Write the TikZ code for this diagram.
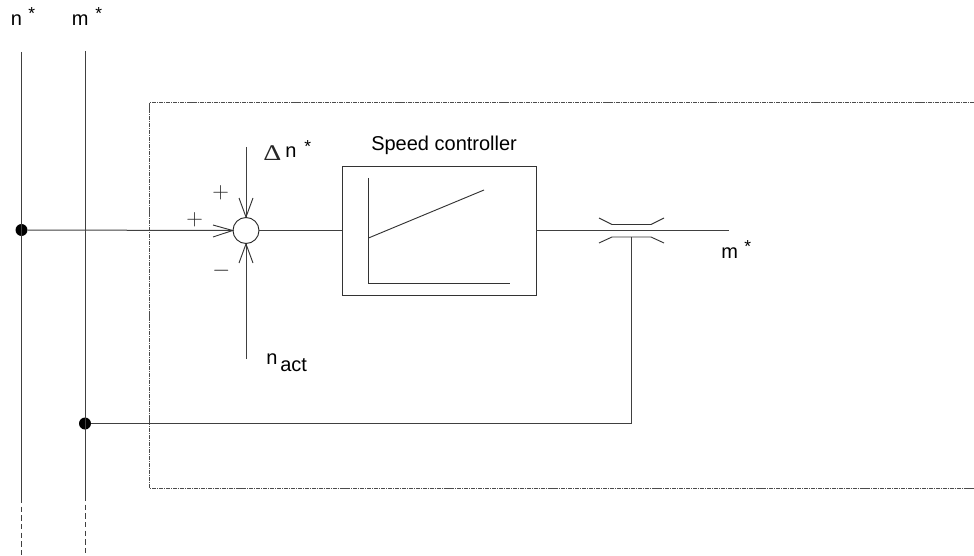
\documentclass[tikz,border=0pt]{standalone}
\usepackage{graphicx}
\usepackage{fontspec}
\setmainfont{Liberation Sans}
\newfontfamily\deltafont{Liberation Serif}
\tikzset{
  wire/.style={line width=0.75pt,black!75},
  thin wire/.style={line width=0.7pt,black!80},
  frame/.style={line width=0.6pt,black!70,dash pattern=on 3pt off 0.7pt on 0.8pt off 0.7pt},
  dashwire/.style={line width=0.75pt,black!75,dash pattern=on 4pt off 2.5pt},
  dot/.style={circle,fill=black,inner sep=0pt,minimum size=9pt},
  lbl/.style={inner sep=0pt,font=\fontsize{15}{17}\selectfont,anchor=base west},
  star/.style={inner sep=0pt,font=\fontsize{13}{15}\selectfont,anchor=base west},
  mathlbl/.style={inner sep=0pt,font=\fontsize{16}{18}\selectfont,anchor=base west,black!85},
  sum/.style={circle,draw,line width=0.7pt,black!85,inner sep=0pt,minimum size=19.5pt},
  ctrl/.style={rectangle,draw,line width=0.7pt,black!80,inner sep=0pt,minimum width=145.5pt,minimum height=96.75pt},
}
\begin{document}
\begin{tikzpicture}[x=0.75pt,y=-0.75pt]
\useasboundingbox (0,0) rectangle (974,556);
% frame
\draw[frame] (974,102) -- (149.5,102) -- (149.5,488) -- (974,488);
% coordinates
\coordinate (ntop) at (21.5,52);
\coordinate (nmid) at (21.5,498);
\coordinate (nend) at (21.5,556);
\coordinate (mtop) at (85,51);
\coordinate (mmid) at (85,496);
\coordinate (mend) at (85,556);
\coordinate (dtop) at (246,147);
\coordinate (nbot) at (246,359);
\coordinate (outend) at (729,230.5);
\coordinate (limT) at (631.5,237);
\coordinate (corner) at (631.5,423.5);
% nodes
\node[dot] (ndot) at (21.5,230) {};
\node[dot] (mdot) at (85,423.5) {};
\node[sum] (sumj) at (246,230.5) {};
\node[ctrl] (pi) at (439,230.5) {};
% rails
\draw[wire] (ntop) -- (nmid);
\draw[dashwire] (nmid) -- (nend);
\draw[wire] (mtop) -- (mmid);
\draw[dashwire] (mmid) -- (mend);
% signal path
\draw[wire] (ndot) -- (sumj.west);
\draw[wire] (dtop) -- (sumj.north);
\draw[wire] (nbot) -- (sumj.south);
\draw[wire] (sumj.east) -- (pi.west);
\draw[wire] (pi.east |- outend) -- (outend);
\draw[wire] (mdot) -- (corner) -- (limT);
% open arrow barbs
\draw[thin wire] (213,225) -- (sumj.west) -- (213,237);
\draw[thin wire] (239,198) -- (sumj.north) -- (253,198);
\draw[thin wire] (239,263) -- (sumj.south) -- (253,263);
% controller characteristic
\draw[thin wire] (368.5,178) -- (368.5,283) -- (510,283);
\draw[thin wire] (368.5,238) -- (484,190);
% limiter
\draw[thin wire] (599,218) -- (612,224.5) -- (651,224.5) -- (664,218);
\draw[thin wire] (599,243) -- (612,237) -- (651,237) -- (664,243);
% labels
\node[lbl] (ln) at (10.5,25.5) {n};
\node[star] (lns) at (28,20) {*};
\node[lbl] (lm) at (71.5,25.5) {m};
\node[star] (lms) at (95,20) {*};
\node[lbl] (sc) at (371,151) {Speed controller};
\node[mathlbl] (ldelta) at (263,160.5) {\scalebox{1}[0.8]{\fontsize{21}{22}\selectfont\deltafont Δ}};
\node[lbl] (ldn) at (285,157) {n};
\node[star] (ldns) at (304,153) {*};
\node[lbl] (lna) at (266,364) {n};
\node[lbl] (lnb) at (280,371) {act};
\node[lbl] (lmo) at (721,258) {m};
\node[star] (lmos) at (744,252) {*};
\node[mathlbl] (pa) at (212,199) {$+$};
\node[mathlbl] (pb) at (186,225) {$+$};
\node[mathlbl] (mi) at (212,276) {$-$};
\end{tikzpicture}
\end{document}
